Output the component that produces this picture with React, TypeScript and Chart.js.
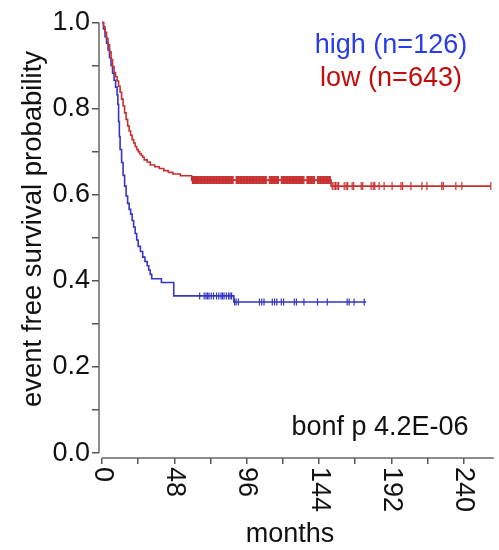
import React, { useEffect, useRef } from 'react';
import { Chart, registerables } from 'chart.js';
Chart.register(...registerables);

// ---- data ----
const highTimes = [0, 1, 2, 3, 4, 5, 6, 7, 8, 9, 10, 10.5, 11, 11.5, 12, 13, 14, 15, 16, 17, 18, 19, 20, 21, 22, 23, 24, 25.5, 27, 28.5, 30, 31, 32, 33, 39.4, 47.6, 87.5, 175.3];
const highSurv = [1.0, 0.985, 0.967, 0.952, 0.936, 0.918, 0.9, 0.882, 0.866, 0.85, 0.832, 0.81, 0.77, 0.735, 0.705, 0.675, 0.645, 0.62, 0.597, 0.58, 0.566, 0.555, 0.54, 0.525, 0.51, 0.495, 0.48, 0.468, 0.455, 0.445, 0.435, 0.425, 0.415, 0.405, 0.396, 0.365, 0.351, 0.351];
const highCensor = [64.8, 67.8, 69, 70, 71, 72.5, 74, 76, 77.5, 79, 80, 81, 82.5, 84, 85, 86, 88, 89, 90.5, 104.5, 106, 107.5, 113, 114.5, 116, 119, 120.5, 127.6, 129, 134, 143, 149.5, 162.7, 164, 167.3, 174];

const lowTimes = [0, 1, 2, 3, 4, 5, 6, 7, 8, 9, 10, 11, 12, 13, 14, 15, 16, 17, 18, 19, 20, 21, 22, 23, 24, 25, 26, 27, 28, 30, 32, 35, 38, 41, 44, 47, 52, 59.5, 152, 258];
const lowSurv = [1.0, 0.99, 0.977, 0.963, 0.948, 0.932, 0.914, 0.897, 0.884, 0.874, 0.864, 0.852, 0.838, 0.822, 0.806, 0.79, 0.775, 0.76, 0.748, 0.738, 0.728, 0.72, 0.712, 0.705, 0.7, 0.695, 0.691, 0.687, 0.681, 0.676, 0.669, 0.665, 0.661, 0.656, 0.652, 0.648, 0.644, 0.634, 0.62, 0.62];
const lowCensor = [
  60, 60.4, 60.8, 61.2, 61.6, 62, 62.4, 62.8, 63.2, 63.6, 64, 64.5, 65, 65.5, 66, 66.5, 67, 67.5, 68, 68.5, 69, 69.5, 70, 70.5, 71, 71.5, 72, 72.5, 73, 73.5,
  74, 74.5, 75, 75.5, 76, 76.5, 77, 77.5, 78, 78.5, 79, 79.5, 80, 80.5, 81, 81.5, 82, 82.5, 83, 83.5, 84, 84.5, 85, 85.5, 86, 86.5, 87, 89, 89.5, 90,
  90.5, 91, 91.5, 92, 92.5, 93, 93.5, 94, 94.5, 95, 95.5, 96, 96.5, 97, 97.5, 98, 98.5, 99, 99.5, 100, 100.5, 101, 101.5, 102, 102.5, 103, 103.5, 104, 104.5, 105,
  105.5, 106, 106.5, 107, 107.5, 108, 108.5, 109, 111, 111.5, 112, 112.5, 113, 113.5, 114, 114.5, 115, 115.5, 116, 116.5, 117, 119, 119.5, 120, 120.5, 121, 121.5, 122, 122.5, 123,
  123.5, 124, 124.5, 125, 125.5, 126, 126.5, 127, 127.5, 128, 128.5, 129, 129.5, 130, 130.5, 131, 131.5, 132, 132.5, 133, 133.5, 134, 136, 136.5, 137, 137.5, 138, 138.5, 139, 139.5,
  140, 140.5, 141, 143, 143.5, 144, 144.5, 145, 145.5, 146, 146.5, 147, 147.5, 148, 148.5, 149, 149.5, 150, 150.5, 151, 151.5,
  152.8, 154, 155, 156, 157, 160.7, 162, 163, 166, 167, 172, 173, 178.6, 180, 181, 183.9, 187.2, 192.5, 198.4, 199.5, 205, 212.3, 215.6, 225.5, 226.5, 234.8, 238.8, 258,
];

const xTickValues = [0, 24, 48, 72, 96, 120, 144, 168, 192, 216, 240];
const xLabelValues = [0, 48, 96, 144, 192, 240];
const yTickValues = [0, 0.1, 0.2, 0.3, 0.4, 0.5, 0.6, 0.7, 0.8, 0.9, 1.0];
const yLabelValues = [0, 0.2, 0.4, 0.6, 0.8, 1.0];

const legendHigh = 'high (n=126)';
const legendLow = 'low (n=643)';
const pText = 'bonf p 4.2E-06';
const xTitle = 'months';
const yTitle = 'event free survival probability';

const FONT = '"Liberation Sans", Arial, sans-serif';
const BLUE_LINE = '#3535c4';
const RED_LINE = '#c83030';
const BLUE_TEXT = '#2a3ce6';
const RED_TEXT = '#c40c0c';

function survAt(times: number[], surv: number[], t: number) {
  let s = surv[0];
  for (let i = 0; i < times.length; i++) {
    if (times[i] <= t) s = surv[i];
  }
  return s;
}

const overlay = {
  id: 'overlay',
  afterDraw(chart: any) {
    const { ctx, chartArea, scales } = chart;
    const x = scales.x;
    const y = scales.y;
    ctx.save();
    // axis lines
    ctx.strokeStyle = '#666';
    ctx.lineWidth = 1.5;
    ctx.beginPath();
    ctx.moveTo(chartArea.left, y.getPixelForValue(1));
    ctx.lineTo(chartArea.left, y.getPixelForValue(0));
    ctx.stroke();
    ctx.beginPath();
    ctx.moveTo(x.getPixelForValue(0), chartArea.bottom);
    ctx.lineTo(chartArea.right, chartArea.bottom);
    ctx.stroke();

    // rotated x tick labels
    ctx.fillStyle = '#111';
    ctx.font = `27px ${FONT}`;
    ctx.textAlign = 'left';
    ctx.textBaseline = 'middle';
    for (const v of xLabelValues) {
      const px = x.getPixelForValue(v);
      ctx.save();
      ctx.translate(px, chartArea.bottom + 9);
      ctx.rotate(Math.PI / 2);
      ctx.fillText(String(v), 0, 0);
      ctx.restore();
    }
    // x title
    ctx.textAlign = 'center';
    ctx.textBaseline = 'alphabetic';
    ctx.fillText(xTitle, 290, 542);
    // y title
    ctx.save();
    ctx.translate(33, 229);
    ctx.rotate(-Math.PI / 2);
    ctx.textAlign = 'center';
    ctx.textBaseline = 'middle';
    ctx.font = `27.5px ${FONT}`;
    ctx.fillText(yTitle, 0, 0);
    ctx.restore();
    // p value
    ctx.textAlign = 'center';
    ctx.textBaseline = 'alphabetic';
    ctx.fillText(pText, 380, 435);
    // legend
    ctx.font = `27px ${FONT}`;
    ctx.fillStyle = BLUE_TEXT;
    ctx.fillText(legendHigh, 391, 53);
    ctx.fillStyle = RED_TEXT;
    ctx.fillText(legendLow, 391, 86);
    ctx.restore();
  },
};

export default function App() {
  const ref = useRef<HTMLCanvasElement>(null);
  useEffect(() => {
    if (!ref.current) return;
    const highLine = highTimes.map((t, i) => ({ x: t, y: highSurv[i] }));
    const lowLine = lowTimes.map((t, i) => ({ x: t, y: lowSurv[i] }));
    const highMarks = highCensor.map((t) => ({ x: t, y: survAt(highTimes, highSurv, t) }));
    const lowMarks = lowCensor.map((t) => ({ x: t, y: survAt(lowTimes, lowSurv, t) }));
    const chart = new Chart(ref.current, {
      type: 'line',
      data: {
        datasets: [
          { data: lowLine, borderColor: RED_LINE, borderWidth: 1.6, pointRadius: 0, stepped: 'before', fill: false },
          { data: lowMarks, showLine: false, pointStyle: 'line', pointRotation: 90, pointRadius: 4, pointBorderWidth: 1.2, pointBorderColor: RED_LINE, borderColor: RED_LINE } as any,
          { data: highLine, borderColor: BLUE_LINE, borderWidth: 1.6, pointRadius: 0, stepped: 'before', fill: false },
          { data: highMarks, showLine: false, pointStyle: 'line', pointRotation: 90, pointRadius: 3.5, pointBorderWidth: 1.2, pointBorderColor: BLUE_LINE, borderColor: BLUE_LINE } as any,
        ],
      },
      options: {
        responsive: false,
        animation: false,
        devicePixelRatio: 1,
        layout: { padding: { top: 15.7, right: 3.75, left: 0, bottom: 0 } },
        plugins: { legend: { display: false }, tooltip: { enabled: false } },
        scales: {
          x: {
            type: 'linear',
            min: -2,
            max: 260,
            border: { display: false },
            grid: { display: true, drawOnChartArea: false, drawTicks: true, tickLength: 6, color: '#555', lineWidth: 1.5 },
            ticks: { display: false },
            afterBuildTicks: (s: any) => { s.ticks = xTickValues.map((v) => ({ value: v })); },
            afterFit: (s: any) => { s.height = 92; },
          },
          y: {
            type: 'linear',
            min: -0.0115,
            max: 1.01,
            border: { display: false },
            grid: { display: true, drawOnChartArea: false, drawTicks: true, tickLength: 7, color: '#555', lineWidth: 1.5 },
            ticks: {
              autoSkip: false,
              padding: 2,
              color: '#111',
              font: { size: 27, family: FONT },
              callback: (v: any) => (yLabelValues.some((l) => Math.abs(l - Number(v)) < 1e-6) ? Number(v).toFixed(1) : ''),
            },
            afterBuildTicks: (s: any) => { s.ticks = yTickValues.map((v) => ({ value: v })); },
            afterFit: (s: any) => { s.width = 99; },
          },
        },
      },
      plugins: [overlay],
    });
    return () => chart.destroy();
  }, []);
  return (
    <div style={{ position: 'fixed', left: 0, top: 0, width: 499, height: 550, background: '#fff' }}>
      <canvas ref={ref} width={499} height={550} />
    </div>
  );
}
